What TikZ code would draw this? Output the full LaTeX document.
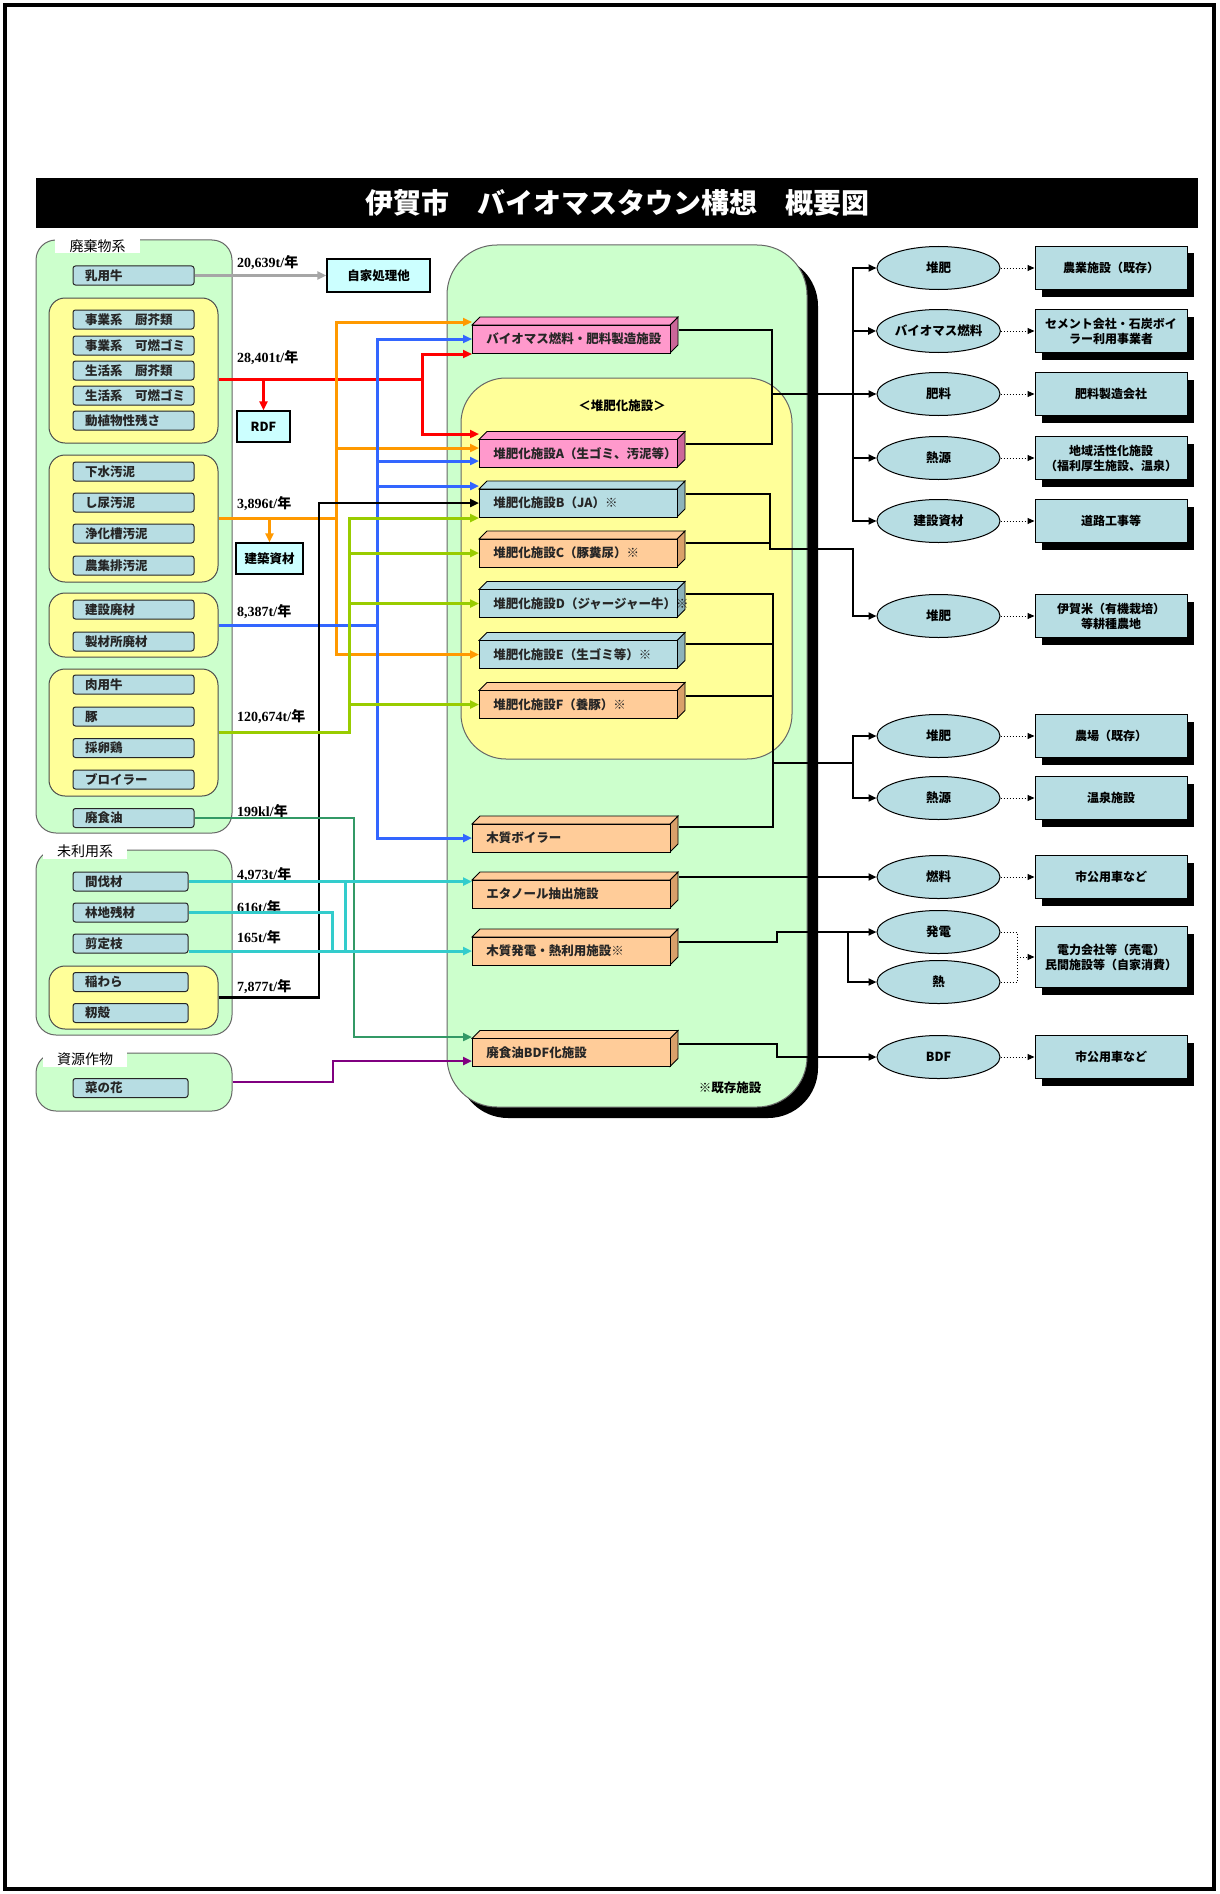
\documentclass[tikz,border=0pt]{standalone}
\usepackage{fontspec}
\setmainfont{Liberation Serif}
\newfontfamily\jp{Noto Sans CJK JP}
\usetikzlibrary{arrows.meta,shapes.geometric,shadows,calc}
\definecolor{cgreen}{HTML}{CCFFCC}
\definecolor{cyel}{HTML}{FFFF99}
\definecolor{clb}{HTML}{B7DDE3}
\definecolor{clbside}{HTML}{8DB3BA}
\definecolor{ccyan}{HTML}{CCFFFF}
\definecolor{cpink}{HTML}{FF99CC}
\definecolor{cpinkside}{HTML}{CC6699}
\definecolor{corg}{HTML}{FFCC99}
\definecolor{corgside}{HTML}{D9A06A}
\definecolor{lnor}{HTML}{FF9900}
\definecolor{lnbl}{HTML}{3366FF}
\definecolor{lnrd}{HTML}{FF0000}
\definecolor{lngn}{HTML}{99CC00}
\definecolor{lndg}{HTML}{339966}
\definecolor{lnpp}{HTML}{800080}
\definecolor{lncy}{HTML}{33CCCC}
\definecolor{lngy}{HTML}{A6A6A6}
\newcommand\amtlab[1]{{\bfseries #1}{\jp\bfseries 年}}
\newcommand\facility[7]{%
  \filldraw[fill=#6,draw=black,line width=0.8] (#2+#4,#3-14) -- ++(8,-8) -- ++(0,28) -- ++(-8,8) -- cycle;
  \filldraw[fill=#5,draw=black,line width=0.8] (#2,#3-14) -- ++(8,-8) -- ++(#4,0) -- ++(-8,8) -- cycle;
  \node[fac,fill=#5,minimum width=#4] (#1) at (#2,#3) {#7};}
\begin{document}
\begin{tikzpicture}[x=1pt,y=-1pt,
  jb/.style={font=\jp\bfseries\fontsize{12.5}{14}\selectfont},
  item/.style={jb,draw=black!85,line width=1,fill=clb,rounded corners=2.5pt,minimum height=19pt,inner xsep=12pt,inner ysep=0pt,text width=97pt,align=left,text=black!85},
  itemn/.style={item,text width=91pt},
  grpg/.style={draw=black!60,line width=1,fill=cgreen,rounded corners=20pt,inner sep=0pt},
  grpy/.style={draw=black!70,line width=1,fill=cyel,rounded corners=16pt,inner sep=0pt},
  glab/.style={fill=white,inner sep=0pt,minimum height=15pt,font=\jp\fontsize{14}{16}\selectfont},
  cbox/.style={jb,draw=black,line width=1.2,fill=ccyan,inner sep=0pt},
  fac/.style={jb,draw=black,line width=0.8,anchor=west,minimum height=28pt,inner xsep=14pt,inner ysep=0pt,text width=170pt,align=left,text=black!85},
  ell/.style={jb,ellipse,draw=black,line width=1,fill=clb,minimum width=123pt,minimum height=43pt,inner sep=0pt},
  rbox/.style={font=\jp\bfseries\fontsize{12}{15}\selectfont,draw=black,line width=1,fill=clb,minimum width=152pt,minimum height=43pt,inner sep=0pt,align=center,drop shadow={shadow xshift=7pt,shadow yshift=-7pt,fill=black,opacity=1}},
  amt/.style={anchor=west,inner sep=0pt,font=\bfseries\fontsize{14}{16}\selectfont},
  cl/.style={line width=3},
  ca/.style={line width=3,-{Triangle[length=9pt,width=8pt]}},
  kl/.style={line width=2.2},
  ka/.style={line width=2.2,-{Triangle[length=8pt,width=7pt]}},
  da/.style={line width=1,dotted,-{Triangle[length=7pt,width=6pt]}},
  dl/.style={line width=1,dotted}]
\useasboundingbox (0,0) rectangle (1219,1894);
\draw[line width=4] (5,5) rectangle (1214,1889);
% title
\node[fill=black,minimum width=1162pt,minimum height=50pt,inner sep=0pt,text=white,font=\jp\bfseries\fontsize{28}{30}\selectfont] (title) at (617,203) {伊賀市　バイオマスタウン構想　概要図};
% left groups
\node[grpg,minimum width=196pt,minimum height=593pt] (g1) at (134,536.5) {};
\node[grpg,minimum width=196pt,minimum height=185pt] (g2) at (134,942.5) {};
\node[grpg,minimum width=196pt,minimum height=58pt] (g3) at (134,1082) {};
\node[glab,minimum width=85pt] (l1) at (97.5,246) {廃棄物系};
\node[glab,minimum width=84pt] (l2) at (85,851) {未利用系};
\node[glab,minimum width=84pt] (l3) at (85,1059) {資源作物};
\node[grpy,minimum width=169pt,minimum height=145pt] (y1) at (133.5,370.5) {};
\node[grpy,minimum width=169pt,minimum height=127pt] (y2) at (133.5,518.5) {};
\node[grpy,minimum width=169pt,minimum height=64pt] (y3) at (133.5,625) {};
\node[grpy,minimum width=169pt,minimum height=127pt] (y4) at (133.5,732.5) {};
\node[grpy,minimum width=169pt,minimum height=63pt] (y5) at (133.5,997.5) {};
% items
\node[item] (nyuyo) at (133.5,275.5) {乳用牛};
\node[item] (i1) at (133.5,319.5) {事業系　厨芥類};
\node[item] (i2) at (133.5,345.5) {事業系　可燃ゴミ};
\node[item] (i3) at (133.5,370.5) {生活系　厨芥類};
\node[item] (i4) at (133.5,395.5) {生活系　可燃ゴミ};
\node[item] (i5) at (133.5,420.5) {動植物性残さ};
\node[item] (i6) at (133.5,471.5) {下水汚泥};
\node[item] (i7) at (133.5,502.5) {し尿汚泥};
\node[item] (i8) at (133.5,533.5) {浄化槽汚泥};
\node[item] (i9) at (133.5,565.5) {農集排汚泥};
\node[item] (i10) at (133.5,609.5) {建設廃材};
\node[item] (i11) at (133.5,641.5) {製材所廃材};
\node[item] (i12) at (133.5,684.5) {肉用牛};
\node[item] (i13) at (133.5,716.5) {豚};
\node[item] (i14) at (133.5,748) {採卵鶏};
\node[item] (i15) at (133.5,779.5) {ブロイラー};
\node[item] (haishoku) at (133.5,818) {廃食油};
\node[itemn] (kanbatsu) at (130.5,881.5) {間伐材};
\node[itemn] (rinchi) at (130.5,912.5) {林地残材};
\node[itemn] (sentei) at (130.5,943.5) {剪定枝};
\node[itemn] (inawara) at (130.5,982) {稲わら};
\node[itemn] (momi) at (130.5,1013) {籾殻};
\node[itemn] (nanohana) at (130.5,1088) {菜の花};
% small boxes
\node[cbox,minimum width=103pt,minimum height=33pt] (jika) at (378.5,275.5) {自家処理他};
\node[cbox,minimum width=53pt,minimum height=31pt] (rdf) at (263.5,426.5) {RDF};
\node[cbox,minimum width=67pt,minimum height=31pt] (kenchiku) at (269.5,558.5) {建築資材};
% amounts
\node[amt] (a1) at (237,263) {\amtlab{20,639t/}};
\node[amt] (a2) at (237,358) {\amtlab{28,401t/}};
\node[amt] (a3) at (237,504) {\amtlab{3,896t/}};
\node[amt] (a4) at (237,612) {\amtlab{8,387t/}};
\node[amt] (a5) at (237,717) {\amtlab{120,674t/}};
\node[amt] (a6) at (237,811) {\amtlab{199kl/}};
\node[amt] (a7) at (237,875) {\amtlab{4,973t/}};
\node[amt] (a8) at (237,907) {\amtlab{616t/}};
\node[amt] (a9) at (237,937) {\amtlab{165t/}};
\node[amt] (a10) at (237,987) {\amtlab{7,877t/}};
% central container
\node[draw=black!60,line width=1,fill=cgreen,rounded corners=50pt,minimum width=360pt,minimum height=862pt,inner sep=0pt,drop shadow={shadow xshift=11pt,shadow yshift=-11pt,fill=black,opacity=1}] (cont) at (627,676) {};
\node[draw=black!60,line width=1,fill=cyel,rounded corners=45pt,minimum width=331pt,minimum height=381pt,inner sep=0pt] (inner) at (626.5,568.5) {};
\node[jb,inner sep=0pt] (kl1) at (622,406) {＜堆肥化施設＞};
\node[jb,inner sep=0pt] (kz) at (730,1088) {※既存施設};
% facilities
\facility{bio}{472}{339}{198}{cpink}{cpinkside}{バイオマス燃料・肥料製造施設}
\facility{cA}{479}{453.5}{198}{cpink}{cpinkside}{堆肥化施設A（生ゴミ、汚泥等）}
\facility{cB}{479}{503}{198}{clb}{clbside}{堆肥化施設B（JA）※}
\facility{cC}{479}{553}{198}{corg}{corgside}{堆肥化施設C（豚糞尿）※}
\facility{cD}{479}{603.5}{198}{clb}{clbside}{堆肥化施設D（ジャージャー牛）※}
\facility{cE}{479}{654.5}{198}{clb}{clbside}{堆肥化施設E（生ゴミ等）※}
\facility{cF}{479}{704.5}{198}{corg}{corgside}{堆肥化施設F（養豚）※}
\facility{boil}{472}{838}{198}{corg}{corgside}{木質ボイラー}
\facility{eth}{472}{894}{198}{corg}{corgside}{エタノール抽出施設}
\facility{mok}{472}{951}{198}{corg}{corgside}{木質発電・熱利用施設※}
\facility{bdf}{472}{1052.5}{198}{corg}{corgside}{廃食油BDF化施設}
% ellipses
\node[ell] (e1) at (938.5,268) {堆肥};
\node[ell] (e2) at (938.5,331) {バイオマス燃料};
\node[ell] (e3) at (938.5,394) {肥料};
\node[ell] (e4) at (938.5,458) {熱源};
\node[ell] (e5) at (938.5,521) {建設資材};
\node[ell] (e6) at (938.5,616) {堆肥};
\node[ell] (e7) at (938.5,736) {堆肥};
\node[ell] (e8) at (938.5,798) {熱源};
\node[ell] (e9) at (938.5,877) {燃料};
\node[ell] (e10) at (938.5,932) {発電};
\node[ell] (e11) at (938.5,982) {熱};
\node[ell] (e12) at (938.5,1057) {BDF};
% right boxes
\node[rbox] (b1) at (1111,268) {農業施設（既存）};
\node[rbox] (b2) at (1111,331) {セメント会社・石炭ボイ\\ラー利用事業者};
\node[rbox] (b3) at (1111,394) {肥料製造会社};
\node[rbox] (b4) at (1111,458) {地域活性化施設\\（福利厚生施設、温泉）};
\node[rbox] (b5) at (1111,521) {道路工事等};
\node[rbox] (b6) at (1111,616) {伊賀米（有機栽培）\\等耕種農地};
\node[rbox] (b7) at (1111,736) {農場（既存）};
\node[rbox] (b8) at (1111,798) {温泉施設};
\node[rbox] (b9) at (1111,877) {市公用車など};
\node[rbox,minimum height=61pt] (b10) at (1111,957) {電力会社等（売電）\\民間施設等（自家消費）};
\node[rbox] (b12) at (1111,1057) {市公用車など};
% coordinates
\coordinate (orv) at (336,0);
\coordinate (blv) at (377,0);
\coordinate (rdv) at (422,0);
\coordinate (bkv) at (319,0);
\coordinate (gnv) at (349,0);
\coordinate (dgv) at (354,0);
\coordinate (cy1) at (345,0);
\coordinate (cy2) at (332,0);
\coordinate (ppv) at (333,0);
\coordinate (j1) at (772,0);
\coordinate (j2) at (770,549);
\coordinate (j3x) at (773,0);
\coordinate (j3) at (773,763);
\coordinate (j5x) at (777,0);
\coordinate (dst) at (853,0);
\coordinate (dst2) at (848,0);
\coordinate (dj) at (1017,0);
\coordinate (rdin) at ($(y1.east)+(0,8.5)$);
\coordinate (tBioO) at ($(bio.west)+(0,-17)$);
\coordinate (tBioB) at (bio.west);
\coordinate (tBioR) at ($(bio.west)+(0,15)$);
\coordinate (tAR) at ($(cA.west)+(0,-19.5)$);
\coordinate (tAO) at ($(cA.west)+(0,-5.5)$);
\coordinate (tAB) at ($(cA.west)+(0,7.5)$);
\coordinate (tBB) at ($(cB.west)+(0,-17)$);
\coordinate (tBK) at (cB.west);
\coordinate (tBG) at ($(cB.west)+(0,15)$);
\coordinate (tCG) at (cC.west);
\coordinate (tDG) at (cD.west);
\coordinate (tEO) at (cE.west);
\coordinate (tFG) at (cF.west);
\coordinate (tBoil) at (boil.west);
\coordinate (tMok) at (mok.west);
\coordinate (tDG1) at ($(bdf.west)+(0,-15.5)$);
\coordinate (tPP) at ($(bdf.west)+(0,8.5)$);
\coordinate (bioR) at ($(bio.east)+(8,-9)$);
\coordinate (AR) at ($(cA.east)+(8,-9.5)$);
\coordinate (BR) at ($(cB.east)+(8,-9)$);
\coordinate (CR) at ($(cC.east)+(8,-10)$);
\coordinate (DR) at ($(cD.east)+(8,-9.5)$);
\coordinate (ER) at ($(cE.east)+(8,-10.5)$);
\coordinate (FR) at ($(cF.east)+(8,-8.5)$);
\coordinate (boilR) at ($(boil.east)+(8,-11)$);
\coordinate (ethR) at ($(eth.east)+(8,-17)$);
\coordinate (mokR) at ($(mok.east)+(8,-9)$);
\coordinate (bdfR) at ($(bdf.east)+(8,-8.5)$);
% left connectors
\draw[ca,lngy] (nyuyo.east) -- (jika.west);
\draw[cl,lnrd] (rdin) -- (rdin -| rdv);
\draw[ca,lnrd] (tAR -| rdv) |- (tBioR);
\draw[ca,lnrd] (tBioR -| rdv) |- (tAR);
\draw[ca,lnrd] (rdin -| rdf.north) -- (rdf.north);
\draw[cl,lnor] (y2.east) -- (y2.east -| orv);
\draw[ca,lnor] (tEO -| orv) |- (tBioO);
\draw[ca,lnor] (tBioO -| orv) |- (tEO);
\draw[ca,lnor] (tAO -| orv) -- (tAO);
\draw[ca,lnor] (y2.east -| kenchiku.north) -- (kenchiku.north);
\draw[cl,lnbl] (y3.east) -- (y3.east -| blv);
\draw[ca,lnbl] (tBoil -| blv) |- (tBioB);
\draw[ca,lnbl] (tBioB -| blv) |- (tBoil);
\draw[ca,lnbl] (tAB -| blv) -- (tAB);
\draw[ca,lnbl] (tBB -| blv) -- (tBB);
\draw[ca,black,line width=2.6] (y5.east) -| (tBK -| bkv) -- (tBK);
\draw[ca,lngn] (y4.east) -| (tBG -| gnv) -- (tBG);
\draw[ca,lngn] (tCG -| gnv) -- (tCG);
\draw[ca,lngn] (tDG -| gnv) -- (tDG);
\draw[ca,lngn] (tFG -| gnv) -- (tFG);
\draw[ca,lndg,line width=2.2] (haishoku.east) -| (tDG1 -| dgv) -- (tDG1);
\draw[ca,lnpp,line width=2.6] (g3.east) -| (tPP -| ppv) -- (tPP);
\draw[ca,lncy] (kanbatsu.east) -- (kanbatsu.east -| eth.west);
\draw[cl,lncy] (kanbatsu.east -| cy1) -- (tMok -| cy1);
\draw[cl,lncy] (rinchi.east) -| (tMok -| cy2);
\draw[ca,lncy] (sentei.east |- tMok) -- (tMok);
% right connectors
\draw[kl] (bioR) -| (AR -| j1) -- (AR);
\draw[kl] (e3.west -| j1) -- (e3.west -| dst);
\draw[ka] (e5.west -| dst) |- (e1.west);
\draw[ka] (e1.west -| dst) |- (e5.west);
\draw[ka] (e2.west -| dst) -- (e2.west);
\draw[ka] (e3.west -| dst) -- (e3.west);
\draw[ka] (e4.west -| dst) -- (e4.west);
\draw[ka] (BR) -| (j2) -| (e6.west -| dst) -- (e6.west);
\draw[kl] (CR) -- (CR -| j2);
\draw[kl] (DR) -| (boilR -| j3x) -- (boilR);
\draw[kl] (ER) -- (ER -| j3x);
\draw[kl] (FR) -- (FR -| j3x);
\draw[kl] (j3) -- (j3 -| dst);
\draw[ka] (e8.west -| dst) |- (e7.west);
\draw[ka] (e7.west -| dst) |- (e8.west);
\draw[ka] (ethR) -- (ethR -| e9.west);
\draw[ka] (mokR) -| (e10.west -| j5x) -- (e10.west);
\draw[ka] (e10.west -| dst2) |- (e11.west);
\draw[ka] (bdfR) -| (e12.west -| j5x) -- (e12.west);
% dotted
\draw[da] (e1.east) -- (e1.east -| b1.west);
\draw[da] (e2.east) -- (e2.east -| b2.west);
\draw[da] (e3.east) -- (e3.east -| b3.west);
\draw[da] (e4.east) -- (e4.east -| b4.west);
\draw[da] (e5.east) -- (e5.east -| b5.west);
\draw[da] (e6.east) -- (e6.east -| b6.west);
\draw[da] (e7.east) -- (e7.east -| b7.west);
\draw[da] (e8.east) -- (e8.east -| b8.west);
\draw[da] (e9.east) -- (e9.east -| b9.west);
\draw[dl] (e10.east) -| (b10.west -| dj);
\draw[dl] (e11.east) -| (b10.west -| dj);
\draw[da] (b10.west -| dj) -- (b10.west);
\draw[da] (e12.east) -- (e12.east -| b12.west);
\end{tikzpicture}
\end{document}
